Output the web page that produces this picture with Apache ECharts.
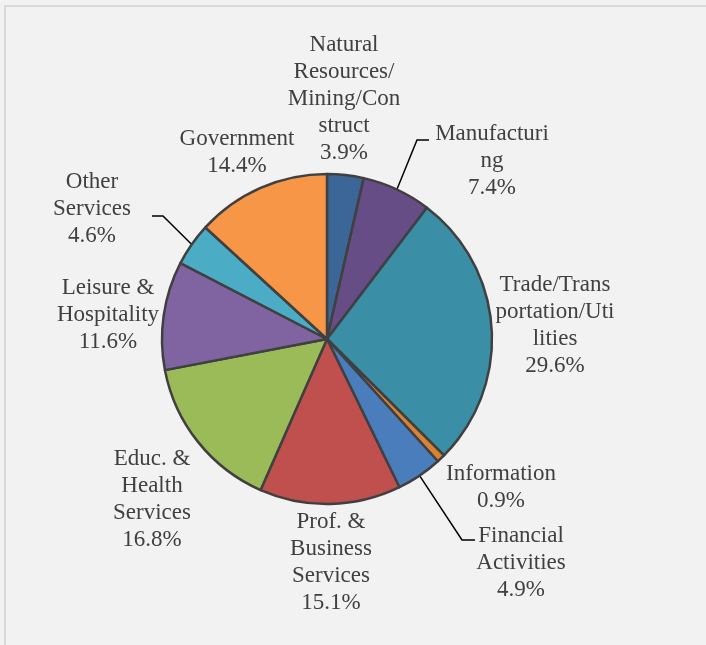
<!DOCTYPE html>
<html>
<head>
<meta charset="utf-8">
<script src="https://cdn.jsdelivr.net/npm/echarts@6/dist/echarts.min.js"></script>
<style>
  html, body { margin: 0; padding: 0; background: #f2f2f2; }
  #frame { position: absolute; left: 4px; top: 5px; width: 760px; height: 700px;
           border-left: 2px solid #d9d9d9; border-top: 2px solid #d9d9d9; }
  #chart { position: absolute; left: 0; top: 0; width: 706px; height: 645px; }
</style>
</head>
<body>
<div id="frame"></div>
<div id="chart"></div>
<script>
// ---- data ----
const categories = [
  'Natural\nResources/\nMining/Con\nstruct',
  'Manufacturi\nng',
  'Trade/Trans\nportation/Uti\nlities',
  'Information',
  'Financial\nActivities',
  'Prof. &\nBusiness\nServices',
  'Educ. &\nHealth\nServices',
  'Leisure &\nHospitality',
  'Other\nServices',
  'Government'
];
const shares = [3.9, 7.4, 29.6, 0.9, 4.9, 15.1, 16.8, 11.6, 4.6, 14.4];
const colors = ['#3c6698', '#664d85', '#3a8ea5', '#da8233', '#4a7dbb',
                '#c0504d', '#9bbb59', '#8064a2', '#4bacc6', '#f79646'];

// ---- label placement (centre of each label block, px) ----
const labelPos = [
  [344, 99], [492, 161], [555, 325], [501, 487], [521, 563],
  [331, 562], [152, 499], [108, 315], [92, 209], [237, 152]
];
// leader lines: elbow and end points for the labels that have one
const leaders = {
  1: [[417, 140], [429, 140]],
  4: [[462, 540], [475, 540]],
  8: [[163, 216], [152, 216]]
};

const chart = echarts.init(document.getElementById('chart'), null, { renderer: 'canvas' });
chart.setOption({
  backgroundColor: 'transparent',
  animation: false,
  series: [{
    type: 'pie',
    center: [327, 339],
    radius: 165,
    startAngle: 90,
    clockwise: true,
    avoidLabelOverlap: false,
    minShowLabelAngle: 0,
    itemStyle: { borderColor: '#404040', borderWidth: 2.5 },
    label: {
      show: true,
      position: 'outside',
      formatter: p => p.name + '\n' + p.value.toFixed(1) + '%',
      fontFamily: 'Liberation Serif',
      fontSize: 23,
      lineHeight: 27,
      color: '#404040',
      align: 'center'
    },
    labelLine: { show: true, lineStyle: { color: '#000', width: 1.5 } },
    labelLayout: function (params) {
      const i = params.dataIndex;
      const out = { x: labelPos[i][0], y: labelPos[i][1], align: 'center', verticalAlign: 'middle' };
      if (leaders[i] && params.labelLinePoints) {
        out.labelLinePoints = [params.labelLinePoints[0], leaders[i][0], leaders[i][1]];
      }
      return out;
    },
    emphasis: { disabled: true },
    data: categories.map((c, i) => ({
      name: c,
      value: shares[i],
      itemStyle: { color: colors[i] },
      labelLine: { show: leaders[i] !== undefined }
    }))
  }]
});
</script>
</body>
</html>
